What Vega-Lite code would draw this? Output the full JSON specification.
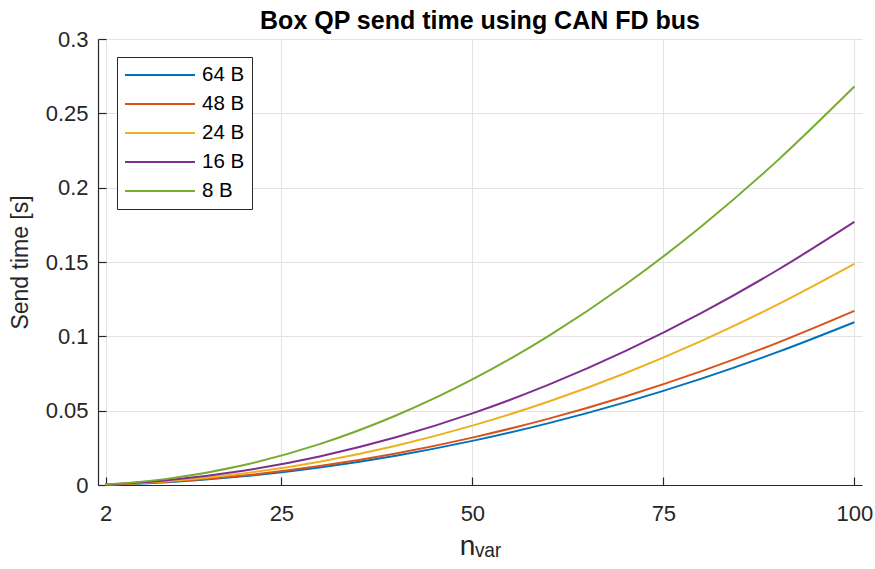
{
  "$schema": "https://vega.github.io/schema/vega-lite/v6.json",
  "width": 764,
  "height": 446,
  "autosize": {"type": "none"},
  "padding": {"left": 98, "top": 39, "right": 13, "bottom": 84},
  "background": "white",
  "title": {"text": "Box QP send time using CAN FD bus", "font": "Liberation Sans", "fontSize": 25, "fontWeight": "bold", "color": "black", "anchor": "middle", "offset": -6},
  "config": {"view": {"stroke": null}},
  "data": {"values": [
    {"n": 2, "size": "64 B", "t": 0.00022}, {"n": 5, "size": "64 B", "t": 0.00071}, {"n": 10, "size": "64 B", "t": 0.00192}, {"n": 20, "size": "64 B", "t": 0.00585}, {"n": 30, "size": "64 B", "t": 0.01179}, {"n": 40, "size": "64 B", "t": 0.01973}, {"n": 50, "size": "64 B", "t": 0.02968}, {"n": 60, "size": "64 B", "t": 0.04163}, {"n": 70, "size": "64 B", "t": 0.05559}, {"n": 80, "size": "64 B", "t": 0.07155}, {"n": 90, "size": "64 B", "t": 0.08952}, {"n": 100, "size": "64 B", "t": 0.1095},
    {"n": 2, "size": "48 B", "t": 0.00025}, {"n": 5, "size": "48 B", "t": 0.00079}, {"n": 10, "size": "48 B", "t": 0.00211}, {"n": 20, "size": "48 B", "t": 0.00635}, {"n": 30, "size": "48 B", "t": 0.01272}, {"n": 40, "size": "48 B", "t": 0.02123}, {"n": 50, "size": "48 B", "t": 0.03188}, {"n": 60, "size": "48 B", "t": 0.04465}, {"n": 70, "size": "48 B", "t": 0.05956}, {"n": 80, "size": "48 B", "t": 0.07661}, {"n": 90, "size": "48 B", "t": 0.09579}, {"n": 100, "size": "48 B", "t": 0.1171},
    {"n": 2, "size": "24 B", "t": 0.00028}, {"n": 5, "size": "24 B", "t": 0.0009}, {"n": 10, "size": "24 B", "t": 0.00249}, {"n": 20, "size": "24 B", "t": 0.00772}, {"n": 30, "size": "24 B", "t": 0.01571}, {"n": 40, "size": "24 B", "t": 0.02646}, {"n": 50, "size": "24 B", "t": 0.03995}, {"n": 60, "size": "24 B", "t": 0.0562}, {"n": 70, "size": "24 B", "t": 0.07519}, {"n": 80, "size": "24 B", "t": 0.09694}, {"n": 90, "size": "24 B", "t": 0.12145}, {"n": 100, "size": "24 B", "t": 0.1487},
    {"n": 2, "size": "16 B", "t": 0.00038}, {"n": 5, "size": "16 B", "t": 0.00119}, {"n": 10, "size": "16 B", "t": 0.00318}, {"n": 20, "size": "16 B", "t": 0.00959}, {"n": 30, "size": "16 B", "t": 0.01923}, {"n": 40, "size": "16 B", "t": 0.03209}, {"n": 50, "size": "16 B", "t": 0.04818}, {"n": 60, "size": "16 B", "t": 0.06749}, {"n": 70, "size": "16 B", "t": 0.09003}, {"n": 80, "size": "16 B", "t": 0.11579}, {"n": 90, "size": "16 B", "t": 0.14478}, {"n": 100, "size": "16 B", "t": 0.177},
    {"n": 2, "size": "8 B", "t": 0.00042}, {"n": 5, "size": "8 B", "t": 0.00143}, {"n": 10, "size": "8 B", "t": 0.00412}, {"n": 20, "size": "8 B", "t": 0.01328}, {"n": 30, "size": "8 B", "t": 0.02748}, {"n": 40, "size": "8 B", "t": 0.04672}, {"n": 50, "size": "8 B", "t": 0.071}, {"n": 60, "size": "8 B", "t": 0.10032}, {"n": 70, "size": "8 B", "t": 0.13468}, {"n": 80, "size": "8 B", "t": 0.17408}, {"n": 90, "size": "8 B", "t": 0.21852}, {"n": 100, "size": "8 B", "t": 0.268}
  ]},
  "mark": {"type": "line", "strokeWidth": 2, "interpolate": "monotone"},
  "encoding": {
    "x": {
      "field": "n", "type": "quantitative",
      "scale": {"domain": [1, 101], "nice": false, "zero": false},
      "axis": {
        "values": [2, 25, 50, 75, 100],
        "title": "nᵥₐᵣ",
        "titleFont": "Liberation Sans", "titleFontSize": 28, "titleFontWeight": "normal", "titleColor": "#262626", "titlePadding": 8,
        "labelFont": "Liberation Sans", "labelFontSize": 22, "labelColor": "#262626", "labelPadding": 26,
        "labelFlush": false, "labelOverlap": false,
        "domainColor": "#262626", "domainWidth": 1.2, "tickColor": "#262626", "tickSize": -8, "tickWidth": 1.2,
        "gridColor": "#e3e3e3", "gridWidth": 1
      }
    },
    "y": {
      "field": "t", "type": "quantitative",
      "scale": {"domain": [0, 0.3], "nice": false},
      "axis": {
        "values": [0, 0.05, 0.1, 0.15, 0.2, 0.25, 0.3],
        "format": "~g",
        "title": "Send time [s]",
        "titleFont": "Liberation Sans", "titleFontSize": 23, "titleFontWeight": "normal", "titleColor": "#262626", "titlePadding": 13,
        "labelFont": "Liberation Sans", "labelFontSize": 22, "labelColor": "#262626", "labelPadding": 18,
        "labelFlush": false, "labelOverlap": false,
        "domainColor": "#262626", "domainWidth": 1.2, "tickColor": "#262626", "tickSize": -8, "tickWidth": 1.2,
        "gridColor": "#e3e3e3", "gridWidth": 1
      }
    },
    "color": {
      "field": "size", "type": "nominal",
      "scale": {"domain": ["64 B", "48 B", "24 B", "16 B", "8 B"], "range": ["#0072BD", "#D95319", "#EDB120", "#7E2F8E", "#77AC30"]},
      "legend": {
        "orient": "none", "legendX": 19, "legendY": 18, "direction": "vertical",
        "title": null,
        "symbolType": "stroke", "symbolSize": 4900, "symbolStrokeWidth": 2, "symbolOpacity": 1,
        "clipHeight": 22, "rowPadding": 7,
        "labelFont": "Liberation Sans", "labelFontSize": 20.5, "labelColor": "black", "labelOffset": 6,
        "padding": 7, "strokeColor": "#262626", "fillColor": "white", "cornerRadius": 0
      }
    }
  }
}
